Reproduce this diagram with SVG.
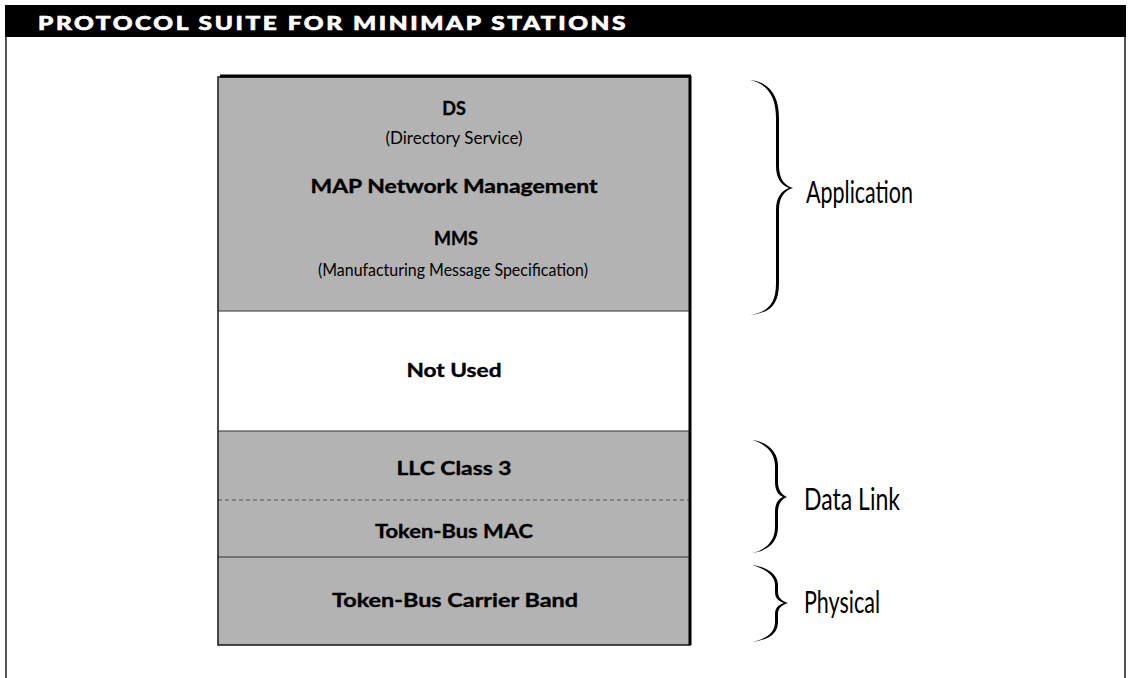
<svg xmlns="http://www.w3.org/2000/svg" width="1129" height="678" viewBox="0 0 1129 678">
<style>
.b{font-family:Lato,"Open Sans","Liberation Sans",sans-serif;font-weight:bold;font-size:18px;fill:#000;stroke:#000;stroke-width:0.35;text-anchor:middle}
.n{font-family:Lato,"Open Sans","Liberation Sans",sans-serif;font-size:18px;fill:#000;text-anchor:middle}
.lbl{font-family:Lato,"Open Sans","Liberation Sans",sans-serif;font-size:30px;fill:#000}
.layer{fill:#b3b3b3}
.div{stroke:#333;stroke-width:1.2}
</style>
<rect width="1129" height="678" fill="#fff"/>
<g id="frame">
<rect x="5" y="5" width="1121" height="32" fill="#000"/>
<line x1="6" y1="37" x2="6" y2="678" stroke="#555" stroke-width="2"/>
<line x1="1125" y1="37" x2="1125" y2="678" stroke="#555" stroke-width="2"/>
<text x="38" y="30" font-family="Lato,'Open Sans','Liberation Sans',sans-serif" font-weight="900" font-size="19" letter-spacing="2" fill="#fff" stroke="#fff" stroke-width="0.6" textLength="590" lengthAdjust="spacingAndGlyphs">PROTOCOL SUITE FOR MINIMAP STATIONS</text>
</g>
<g id="application">
<rect class="layer" x="218" y="77" width="472" height="234"/>
<text class="b" x="454" y="115">DS</text>
<text class="n" x="454" y="144" textLength="137" lengthAdjust="spacingAndGlyphs">(Directory Service)</text>
<text class="b" x="454" y="193" textLength="287" lengthAdjust="spacingAndGlyphs">MAP Network Management</text>
<text class="b" x="456" y="245">MMS</text>
<text class="n" x="453" y="276" textLength="270" lengthAdjust="spacingAndGlyphs">(Manufacturing Message Specification)</text>
</g>
<g id="notused">
<rect x="218" y="311" width="472" height="120" fill="#fff"/>
<text class="b" x="454" y="377" textLength="95" lengthAdjust="spacingAndGlyphs">Not Used</text>
</g>
<g id="llc">
<rect class="layer" x="218" y="431" width="472" height="69"/>
<text class="b" x="454" y="475" textLength="115" lengthAdjust="spacingAndGlyphs">LLC Class 3</text>
</g>
<g id="mac">
<rect class="layer" x="218" y="500" width="472" height="57"/>
<text class="b" x="454" y="538" textLength="158" lengthAdjust="spacingAndGlyphs">Token-Bus MAC</text>
</g>
<g id="carrier">
<rect class="layer" x="218" y="557" width="472" height="88"/>
<text class="b" x="455" y="607" textLength="246" lengthAdjust="spacingAndGlyphs">Token-Bus Carrier Band</text>
</g>
<g id="connectors">
<line class="div" x1="218" y1="311" x2="690" y2="311"/>
<line class="div" x1="218" y1="431" x2="690" y2="431"/>
<line x1="218" y1="500" x2="690" y2="500" stroke="#555" stroke-width="1" stroke-dasharray="4,3"/>
<line class="div" x1="218" y1="557" x2="690" y2="557"/>
<rect x="218" y="77" width="472" height="568" fill="none" stroke="#222" stroke-width="1.6"/>
<line x1="220" y1="76" x2="691" y2="76" stroke="#000" stroke-width="3"/>
<line x1="690" y1="76" x2="690" y2="645" stroke="#000" stroke-width="3"/>
</g>
<g id="brace-application">
<path d="M750,80 C770,82 779,96 779,118 L779,166 C779,179 785,186 793,188 C785,190 779,197 779,210 L779,283 C779,305 770,313 750,315 C768,312 776,304 776,283 L776,210 C776,198 781,191 789,188 C781,185 776,178 776,166 L776,118 C776,97 768,84 750,80 Z" fill="#000"/>
<text class="lbl" x="806" y="203" textLength="107" lengthAdjust="spacingAndGlyphs">Application</text>
</g>
<g id="brace-datalink">
<path d="M752,440 C768,442 778,452 778,466 L778,482 C778,490 782,495 787,497 C782,499 778,504 778,512 L778,527 C778,542 768,551 752,553 C766,550 775,541 775,527 L775,512 C775,504 778,499 783,497 C778,495 775,490 775,482 L775,466 C775,453 766,444 752,440 Z" fill="#000"/>
<text class="lbl" x="804" y="510" textLength="96" lengthAdjust="spacingAndGlyphs">Data Link</text>
</g>
<g id="brace-physical">
<path d="M752,565 C768,567 778,575 778,585 L778,592 C778,598 782,601 788,603 C782,605 778,608 778,614 L778,622 C778,634 768,640 752,642 C766,639 775,633 775,622 L775,614 C775,608 778,605 784,603 C778,601 775,598 775,592 L775,585 C775,576 766,569 752,565 Z" fill="#000"/>
<text class="lbl" x="804" y="613" textLength="76" lengthAdjust="spacingAndGlyphs">Physical</text>
</g>
</svg>
